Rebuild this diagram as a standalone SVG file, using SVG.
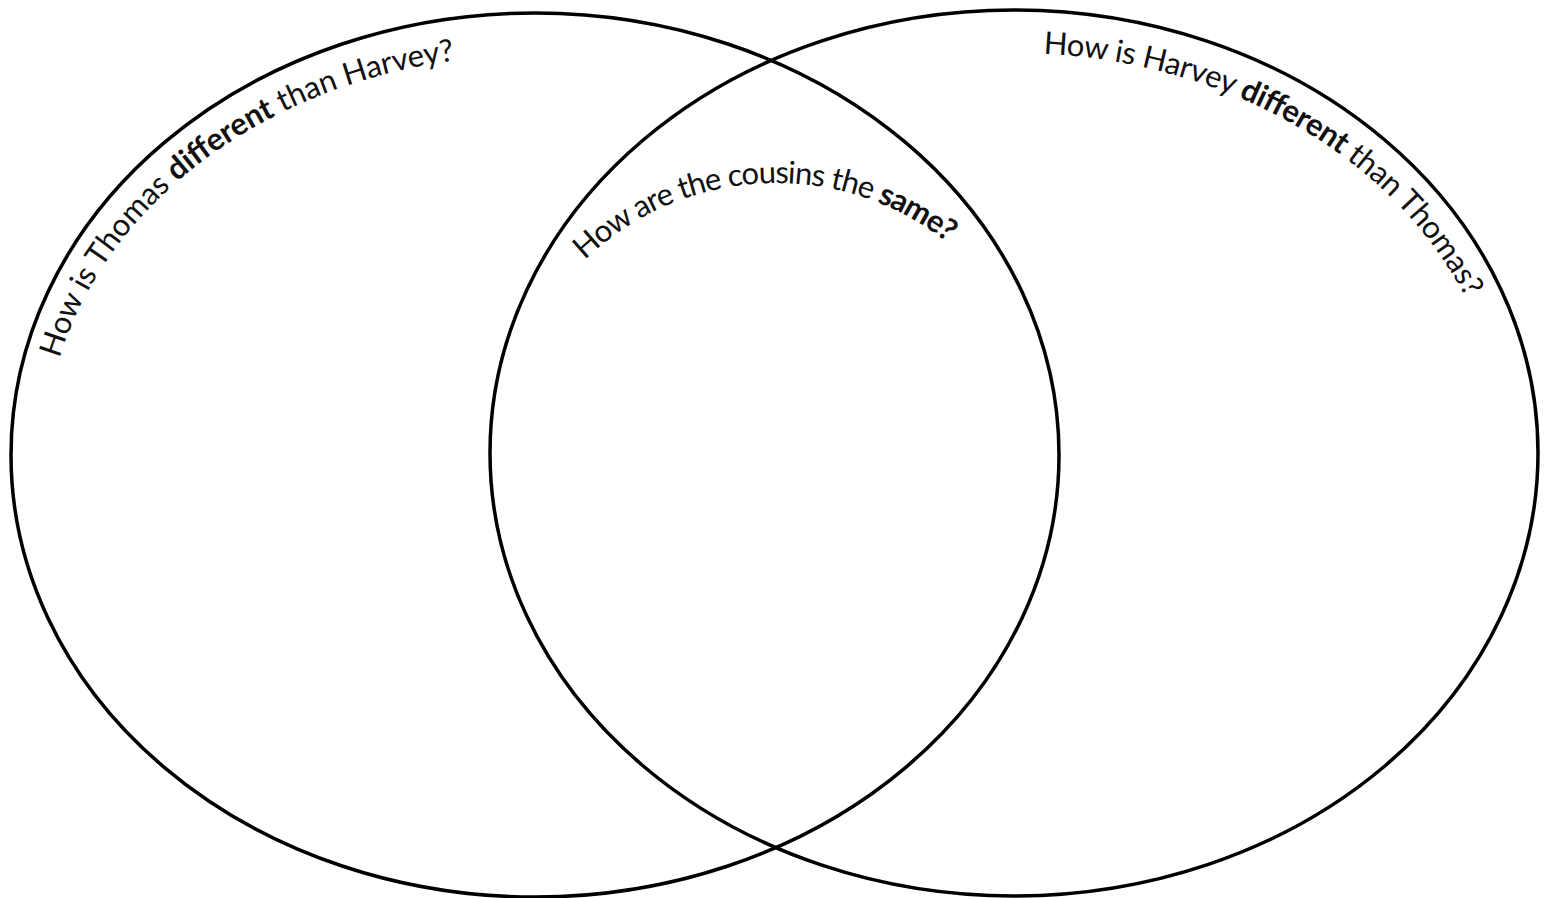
<svg xmlns="http://www.w3.org/2000/svg" xmlns:xlink="http://www.w3.org/1999/xlink" width="1551" height="898" viewBox="0 0 1551 898">
<style>
.ring{fill:none;stroke:#000;stroke-width:3.5}
.lbl{font-family:Lato,"Open Sans",sans-serif;font-size:31px;fill:#111}
.b{font-weight:bold}
</style>
<defs>
<path id="pl" d="M 45,455 A 490,400 0 0,1 1025,455"/>
<path id="pr" d="M 524,453 A 490,400 0 0,1 1504,453"/>
<path id="pm" d="M 500,459 A 276,276 0 0,1 1052,459"/>
</defs>
<rect width="1551" height="898" fill="#fff"/>
<g id="connectors"></g>
<g id="left">
<ellipse class="ring" cx="535" cy="455" rx="524" ry="442"/>
<text class="lbl"><textPath xlink:href="#pl" href="#pl" startOffset="98" textLength="522" lengthAdjust="spacing">How is Thomas <tspan class="b">different</tspan> than Harvey?</textPath></text>
</g>
<g id="right">
<ellipse class="ring" cx="1014" cy="453" rx="524" ry="443"/>
<text class="lbl"><textPath xlink:href="#pr" href="#pr" startOffset="730" textLength="510" lengthAdjust="spacing">How is Harvey <tspan class="b">different</tspan> than Thomas?</textPath></text>
</g>
<g id="middle">
<text class="lbl"><textPath xlink:href="#pm" href="#pm" startOffset="222" textLength="396" lengthAdjust="spacing">How are the cousins the <tspan class="b">same?</tspan></textPath></text>
</g>
</svg>
